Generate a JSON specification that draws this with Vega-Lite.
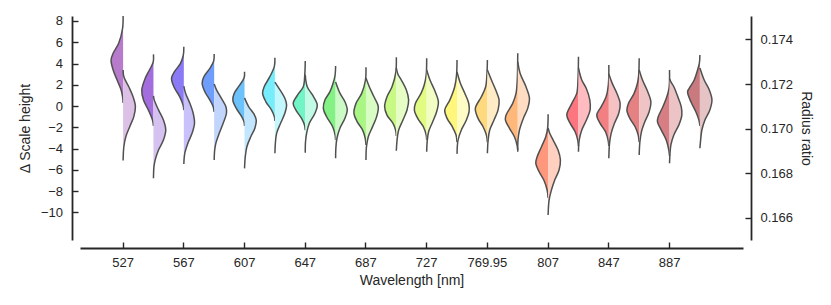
{
"$schema":"https://vega.github.io/schema/vega-lite/v6.json",
"width":663,"height":224,
"autosize":"none",
"padding":{"left":80,"top":16,"right":88,"bottom":65},
"config":{"view":{"stroke":null},"font":"Liberation Sans",
"axis":{"grid":false,"labelFont":"Liberation Sans","titleFont":"Liberation Sans","labelFontSize":13,"titleFontSize":14,"titleFontWeight":"normal","labelColor":"#262626","titleColor":"#262626","domainColor":"#262626","tickColor":"#262626","domainWidth":1.8,"tickWidth":1.4,"tickSize":-6,"offset":8}},
"datasets":{
"left":[
{"w":"527","v":8.47,"d":0},{"w":"527","v":7.34,"d":0.04},{"w":"527","v":5.93,"d":0.35},{"w":"527","v":4.96,"d":0.81},{"w":"527","v":4.33,"d":0.98},{"w":"527","v":3.39,"d":0.81},{"w":"527","v":2.45,"d":0.49},{"w":"527","v":1.51,"d":0.16},{"w":"527","v":0.87,"d":0.04},{"w":"527","v":0.28,"d":0},
{"w":"547","v":4.86,"d":0},{"w":"547","v":4.14,"d":0.02},{"w":"547","v":3.39,"d":0.33},{"w":"547","v":2.61,"d":0.67},{"w":"547","v":1.51,"d":0.95},{"w":"547","v":0.56,"d":0.81},{"w":"547","v":-0.38,"d":0.41},{"w":"547","v":-1.32,"d":0.08},{"w":"547","v":-1.88,"d":0},
{"w":"567","v":5.58,"d":0},{"w":"567","v":4.8,"d":0.04},{"w":"567","v":4.02,"d":0.27},{"w":"567","v":3.23,"d":0.76},{"w":"567","v":2.61,"d":1.0},{"w":"567","v":1.82,"d":0.81},{"w":"567","v":0.87,"d":0.33},{"w":"567","v":0.09,"d":0.06},{"w":"567","v":-0.38,"d":0},
{"w":"587","v":4.89,"d":0},{"w":"587","v":4.23,"d":0.04},{"w":"587","v":3.54,"d":0.35},{"w":"587","v":2.76,"d":0.84},{"w":"587","v":2.14,"d":0.98},{"w":"587","v":1.35,"d":0.76},{"w":"587","v":0.56,"d":0.35},{"w":"587","v":-0.07,"d":0.08},{"w":"587","v":-0.56,"d":0},
{"w":"607","v":3.23,"d":0},{"w":"607","v":2.63,"d":0.04},{"w":"607","v":1.82,"d":0.49},{"w":"607","v":1.19,"d":0.84},{"w":"607","v":0.56,"d":0.95},{"w":"607","v":-0.22,"d":0.67},{"w":"607","v":-1.01,"d":0.22},{"w":"607","v":-1.48,"d":0.04},{"w":"607","v":-1.88,"d":0},
{"w":"627","v":4.54,"d":0},{"w":"627","v":3.76,"d":0.04},{"w":"627","v":2.76,"d":0.41},{"w":"627","v":1.82,"d":0.87},{"w":"627","v":1.19,"d":1.0},{"w":"627","v":0.4,"d":0.73},{"w":"627","v":-0.38,"d":0.27},{"w":"627","v":-1.01,"d":0.04},{"w":"627","v":-1.41,"d":0},
{"w":"647","v":4.23,"d":0},{"w":"647","v":2.92,"d":0.04},{"w":"647","v":1.82,"d":0.16},{"w":"647","v":1.03,"d":0.63},{"w":"647","v":0.25,"d":0.98},{"w":"647","v":-0.38,"d":0.76},{"w":"647","v":-1.16,"d":0.3},{"w":"647","v":-1.79,"d":0.06},{"w":"647","v":-2.26,"d":0},
{"w":"667","v":3.76,"d":0},{"w":"667","v":2.92,"d":0.04},{"w":"667","v":2.16,"d":0.2},{"w":"667","v":1.35,"d":0.46},{"w":"667","v":0.56,"d":0.87},{"w":"667","v":-0.22,"d":1.0},{"w":"667","v":-1.01,"d":0.73},{"w":"667","v":-1.95,"d":0.24},{"w":"667","v":-2.73,"d":0.04},{"w":"667","v":-3.2,"d":0},
{"w":"687","v":3.64,"d":0},{"w":"687","v":2.45,"d":0.04},{"w":"687","v":1.19,"d":0.35},{"w":"687","v":0.25,"d":0.81},{"w":"687","v":-0.69,"d":0.98},{"w":"687","v":-1.48,"d":0.71},{"w":"687","v":-2.26,"d":0.27},{"w":"687","v":-3.04,"d":0.06},{"w":"687","v":-3.67,"d":0},
{"w":"707","v":4.58,"d":0},{"w":"707","v":3.2,"d":0.04},{"w":"707","v":1.82,"d":0.35},{"w":"707","v":0.87,"d":0.76},{"w":"707","v":-0.07,"d":0.95},{"w":"707","v":-0.85,"d":0.76},{"w":"707","v":-1.63,"d":0.27},{"w":"707","v":-2.26,"d":0.06},{"w":"707","v":-2.82,"d":0},
{"w":"727","v":4.49,"d":0},{"w":"727","v":2.92,"d":0.04},{"w":"727","v":1.98,"d":0.2},{"w":"727","v":1.19,"d":0.46},{"w":"727","v":0.25,"d":0.92},{"w":"727","v":-0.38,"d":1.0},{"w":"727","v":-1.16,"d":0.73},{"w":"727","v":-1.95,"d":0.27},{"w":"727","v":-2.73,"d":0.04},{"w":"727","v":-3.2,"d":0},
{"w":"747","v":4.33,"d":0},{"w":"747","v":2.92,"d":0.04},{"w":"747","v":1.82,"d":0.19},{"w":"747","v":0.56,"d":0.59},{"w":"747","v":-0.38,"d":1.0},{"w":"747","v":-1.16,"d":0.81},{"w":"747","v":-1.95,"d":0.38},{"w":"747","v":-2.73,"d":0.08},{"w":"747","v":-3.39,"d":0},
{"w":"769.95","v":4.33,"d":0},{"w":"769.95","v":2.92,"d":0.04},{"w":"769.95","v":1.82,"d":0.14},{"w":"769.95","v":0.87,"d":0.49},{"w":"769.95","v":-0.22,"d":0.98},{"w":"769.95","v":-1.16,"d":0.76},{"w":"769.95","v":-1.95,"d":0.35},{"w":"769.95","v":-2.73,"d":0.08},{"w":"769.95","v":-3.39,"d":0},
{"w":"787","v":4.96,"d":0},{"w":"787","v":2.45,"d":0.04},{"w":"787","v":1.19,"d":0.14},{"w":"787","v":0.25,"d":0.41},{"w":"787","v":-0.85,"d":0.95},{"w":"787","v":-1.32,"d":1.0},{"w":"787","v":-2.1,"d":0.67},{"w":"787","v":-2.89,"d":0.27},{"w":"787","v":-3.67,"d":0.06},{"w":"787","v":-4.14,"d":0},
{"w":"807","v":-0.78,"d":0},{"w":"807","v":-2.07,"d":0.04},{"w":"807","v":-2.89,"d":0.19},{"w":"807","v":-3.83,"d":0.54},{"w":"807","v":-4.77,"d":0.89},{"w":"807","v":-5.39,"d":1.0},{"w":"807","v":-6.18,"d":0.73},{"w":"807","v":-6.96,"d":0.35},{"w":"807","v":-7.9,"d":0.08},{"w":"807","v":-8.65,"d":0},
{"w":"827","v":4.64,"d":0},{"w":"827","v":2.45,"d":0.04},{"w":"827","v":1.19,"d":0.14},{"w":"827","v":0.25,"d":0.54},{"w":"827","v":-0.85,"d":0.95},{"w":"827","v":-1.63,"d":0.67},{"w":"827","v":-2.42,"d":0.27},{"w":"827","v":-3.2,"d":0.06},{"w":"827","v":-3.76,"d":0},
{"w":"847","v":3.86,"d":0},{"w":"847","v":1.98,"d":0.04},{"w":"847","v":0.87,"d":0.22},{"w":"847","v":-0.07,"d":0.63},{"w":"847","v":-0.85,"d":0.98},{"w":"847","v":-1.63,"d":0.71},{"w":"847","v":-2.42,"d":0.27},{"w":"847","v":-3.2,"d":0.06},{"w":"847","v":-3.76,"d":0},
{"w":"867","v":4.49,"d":0},{"w":"867","v":2.92,"d":0.04},{"w":"867","v":2.14,"d":0.14},{"w":"867","v":1.19,"d":0.41},{"w":"867","v":0.25,"d":0.87},{"w":"867","v":-0.38,"d":1.0},{"w":"867","v":-1.16,"d":0.76},{"w":"867","v":-1.95,"d":0.33},{"w":"867","v":-2.73,"d":0.08},{"w":"867","v":-3.39,"d":0},
{"w":"887","v":3.39,"d":0},{"w":"887","v":1.69,"d":0.04},{"w":"887","v":0.87,"d":0.22},{"w":"887","v":-0.07,"d":0.54},{"w":"887","v":-1.01,"d":0.92},{"w":"887","v":-1.48,"d":0.98},{"w":"887","v":-2.26,"d":0.67},{"w":"887","v":-3.2,"d":0.27},{"w":"887","v":-4.14,"d":0.06},{"w":"887","v":-4.7,"d":0},
{"w":"907","v":4.8,"d":0},{"w":"907","v":4.05,"d":0.04},{"w":"907","v":3.39,"d":0.19},{"w":"907","v":2.45,"d":0.46},{"w":"907","v":1.66,"d":0.87},{"w":"907","v":1.35,"d":1.0},{"w":"907","v":0.4,"d":0.73},{"w":"907","v":-0.54,"d":0.33},{"w":"907","v":-1.32,"d":0.08},{"w":"907","v":-1.88,"d":0}
],
"right":[
{"w":"527","v":0.17263,"d":0},{"w":"527","v":0.17233,"d":0.06},{"w":"527","v":0.17188,"d":0.46},{"w":"527","v":0.17143,"d":0.81},{"w":"527","v":0.17099,"d":1.0},{"w":"527","v":0.17054,"d":0.87},{"w":"527","v":0.17009,"d":0.54},{"w":"527","v":0.16964,"d":0.22},{"w":"527","v":0.16919,"d":0.06},{"w":"527","v":0.16857,"d":0},
{"w":"547","v":0.17147,"d":0},{"w":"547","v":0.17129,"d":0.06},{"w":"547","v":0.17084,"d":0.41},{"w":"547","v":0.17039,"d":0.81},{"w":"547","v":0.16994,"d":1.0},{"w":"547","v":0.16949,"d":0.81},{"w":"547","v":0.16904,"d":0.41},{"w":"547","v":0.1686,"d":0.14},{"w":"547","v":0.1683,"d":0.04},{"w":"547","v":0.16778,"d":0},
{"w":"567","v":0.17191,"d":0},{"w":"567","v":0.17159,"d":0.14},{"w":"567","v":0.17114,"d":0.49},{"w":"567","v":0.17069,"d":0.76},{"w":"567","v":0.17024,"d":0.87},{"w":"567","v":0.16979,"d":0.67},{"w":"567","v":0.16935,"d":0.33},{"w":"567","v":0.1689,"d":0.08},{"w":"567","v":0.16842,"d":0},
{"w":"587","v":0.172,"d":0},{"w":"587","v":0.17174,"d":0.19},{"w":"587","v":0.17136,"d":0.59},{"w":"587","v":0.17099,"d":0.95},{"w":"587","v":0.17069,"d":1.0},{"w":"587","v":0.17024,"d":0.73},{"w":"587","v":0.16979,"d":0.41},{"w":"587","v":0.16935,"d":0.14},{"w":"587","v":0.16904,"d":0.04},{"w":"587","v":0.1686,"d":0},
{"w":"607","v":0.17138,"d":0},{"w":"607","v":0.17099,"d":0.33},{"w":"607","v":0.17069,"d":0.73},{"w":"607","v":0.17039,"d":0.95},{"w":"607","v":0.17002,"d":0.84},{"w":"607","v":0.16964,"d":0.51},{"w":"607","v":0.16919,"d":0.19},{"w":"607","v":0.16874,"d":0.06},{"w":"607","v":0.16822,"d":0},
{"w":"627","v":0.17209,"d":0},{"w":"627","v":0.17174,"d":0.41},{"w":"627","v":0.17136,"d":0.81},{"w":"627","v":0.17106,"d":0.95},{"w":"627","v":0.17069,"d":0.81},{"w":"627","v":0.17024,"d":0.46},{"w":"627","v":0.16979,"d":0.14},{"w":"627","v":0.16935,"d":0.04},{"w":"627","v":0.1689,"d":0},
{"w":"647","v":0.17241,"d":0},{"w":"647","v":0.17188,"d":0.16},{"w":"647","v":0.17151,"d":0.59},{"w":"647","v":0.17106,"d":0.98},{"w":"647","v":0.17069,"d":0.79},{"w":"647","v":0.17024,"d":0.33},{"w":"647","v":0.16979,"d":0.11},{"w":"647","v":0.1694,"d":0.02},{"w":"647","v":0.16892,"d":0},
{"w":"667","v":0.17209,"d":0},{"w":"667","v":0.17159,"d":0.35},{"w":"667","v":0.17121,"d":0.76},{"w":"667","v":0.17084,"d":0.95},{"w":"667","v":0.17047,"d":0.76},{"w":"667","v":0.17002,"d":0.35},{"w":"667","v":0.16957,"d":0.11},{"w":"667","v":0.16913,"d":0.02},{"w":"667","v":0.16867,"d":0},
{"w":"687","v":0.17227,"d":0},{"w":"687","v":0.17188,"d":0.27},{"w":"687","v":0.17143,"d":0.65},{"w":"687","v":0.17099,"d":1.0},{"w":"687","v":0.17054,"d":0.87},{"w":"687","v":0.17009,"d":0.54},{"w":"687","v":0.16964,"d":0.19},{"w":"687","v":0.16919,"d":0.04},{"w":"687","v":0.1686,"d":0},
{"w":"707","v":0.17272,"d":0},{"w":"707","v":0.17245,"d":0.12},{"w":"707","v":0.17218,"d":0.41},{"w":"707","v":0.17174,"d":0.81},{"w":"707","v":0.17129,"d":1.0},{"w":"707","v":0.17084,"d":0.87},{"w":"707","v":0.17039,"d":0.54},{"w":"707","v":0.16994,"d":0.19},{"w":"707","v":0.16949,"d":0.06},{"w":"707","v":0.16901,"d":0},
{"w":"727","v":0.17263,"d":0},{"w":"727","v":0.17218,"d":0.27},{"w":"727","v":0.17174,"d":0.63},{"w":"727","v":0.17121,"d":0.95},{"w":"727","v":0.17076,"d":0.81},{"w":"727","v":0.17031,"d":0.49},{"w":"727","v":0.16987,"d":0.16},{"w":"727","v":0.16942,"d":0.04},{"w":"727","v":0.16897,"d":0},
{"w":"747","v":0.17254,"d":0},{"w":"747","v":0.17204,"d":0.27},{"w":"747","v":0.17159,"d":0.63},{"w":"747","v":0.17114,"d":0.95},{"w":"747","v":0.17076,"d":0.98},{"w":"747","v":0.17039,"d":0.76},{"w":"747","v":0.16994,"d":0.35},{"w":"747","v":0.16949,"d":0.08},{"w":"747","v":0.16887,"d":0},
{"w":"769.95","v":0.17263,"d":0},{"w":"769.95","v":0.17218,"d":0.33},{"w":"769.95","v":0.17174,"d":0.67},{"w":"769.95","v":0.17129,"d":0.95},{"w":"769.95","v":0.17084,"d":0.87},{"w":"769.95","v":0.17039,"d":0.54},{"w":"769.95","v":0.16994,"d":0.19},{"w":"769.95","v":0.16949,"d":0.06},{"w":"769.95","v":0.1689,"d":0},
{"w":"787","v":0.17299,"d":0},{"w":"787","v":0.17248,"d":0.19},{"w":"787","v":0.17188,"d":0.67},{"w":"787","v":0.17136,"d":0.95},{"w":"787","v":0.17091,"d":0.81},{"w":"787","v":0.17047,"d":0.46},{"w":"787","v":0.16994,"d":0.14},{"w":"787","v":0.16949,"d":0.02},{"w":"787","v":0.16897,"d":0},
{"w":"807","v":0.17003,"d":0},{"w":"807","v":0.16981,"d":0.12},{"w":"807","v":0.16949,"d":0.41},{"w":"807","v":0.16904,"d":0.81},{"w":"807","v":0.1686,"d":1.0},{"w":"807","v":0.16815,"d":0.89},{"w":"807","v":0.1677,"d":0.54},{"w":"807","v":0.16725,"d":0.27},{"w":"807","v":0.1668,"d":0.08},{"w":"807","v":0.16613,"d":0},
{"w":"827","v":0.17272,"d":0},{"w":"827","v":0.17218,"d":0.27},{"w":"827","v":0.17181,"d":0.63},{"w":"827","v":0.17129,"d":0.92},{"w":"827","v":0.17084,"d":0.95},{"w":"827","v":0.17039,"d":0.65},{"w":"827","v":0.16994,"d":0.27},{"w":"827","v":0.16949,"d":0.06},{"w":"827","v":0.16897,"d":0},
{"w":"847","v":0.17245,"d":0},{"w":"847","v":0.17204,"d":0.27},{"w":"847","v":0.17159,"d":0.65},{"w":"847","v":0.17114,"d":0.92},{"w":"847","v":0.17069,"d":0.81},{"w":"847","v":0.17024,"d":0.46},{"w":"847","v":0.16979,"d":0.19},{"w":"847","v":0.16935,"d":0.06},{"w":"847","v":0.16867,"d":0},
{"w":"867","v":0.17263,"d":0},{"w":"867","v":0.17218,"d":0.27},{"w":"867","v":0.17174,"d":0.63},{"w":"867","v":0.17121,"d":0.95},{"w":"867","v":0.17076,"d":0.81},{"w":"867","v":0.17031,"d":0.46},{"w":"867","v":0.16987,"d":0.19},{"w":"867","v":0.16942,"d":0.06},{"w":"867","v":0.16882,"d":0},
{"w":"887","v":0.17223,"d":0},{"w":"887","v":0.17209,"d":0.12},{"w":"887","v":0.17188,"d":0.35},{"w":"887","v":0.17143,"d":0.67},{"w":"887","v":0.17099,"d":0.95},{"w":"887","v":0.17061,"d":1.0},{"w":"887","v":0.17017,"d":0.76},{"w":"887","v":0.16972,"d":0.35},{"w":"887","v":0.16927,"d":0.11},{"w":"887","v":0.16845,"d":0},
{"w":"907","v":0.17272,"d":0},{"w":"907","v":0.17218,"d":0.35},{"w":"907","v":0.17174,"d":0.76},{"w":"907","v":0.17129,"d":0.98},{"w":"907","v":0.17084,"d":0.81},{"w":"907","v":0.17039,"d":0.41},{"w":"907","v":0.16994,"d":0.16},{"w":"907","v":0.16949,"d":0.06},{"w":"907","v":0.16912,"d":0}
]},
"layer":[
{"data":{"name":"left"},
"encoding":{
"x":{"field":"w","type":"nominal","scale":{"domain":["527","547","567","587","607","627","647","667","687","707","727","747","769.95","787","807","827","847","867","887","907"],"paddingInner":0,"paddingOuter":0.92},"axis":{"title":"Wavelength [nm]","values":["527","567","607","647","687","727","769.95","807","847","887"],"labelAngle":0,"labelPadding":14,"titlePadding":4}},
"xOffset":{"field":"d","type":"quantitative","scale":{"domain":[0,1],"range":[15.18,2.88]}},
"y":{"field":"v","type":"quantitative","stack":null,"scale":{"domain":[-12.6,8.47],"nice":false,"zero":false},"axis":{"title":"Δ Scale height","values":[-10,-8,-6,-4,-2,0,2,4,6,8],"labelPadding":15.5,"titlePadding":8}}},
"layer":[
{"mark":{"type":"area","orient":"horizontal","interpolate":"catmull-rom"},
"encoding":{"x2":{"field":"w"},"color":{"field":"w","type":"nominal","legend":null,"scale":{"domain":["527","547","567","587","607","627","647","667","687","707","727","747","769.95","787","807","827","847","867","887","907"],"range":["#b77bcc","#a46ddd","#8b7af5","#6e9dfb","#6cc3fb","#77ecfb","#72f5c6","#84f184","#a9f685","#c8f985","#e2fb82","#fff67c","#ffd97d","#ffb87a","#ff977c","#fd757e","#f27f82","#e58083","#d67e83","#c97a7e"]}}}},
{"mark":{"type":"line","interpolate":"catmull-rom","color":"#505050","strokeWidth":1.5},
"encoding":{"detail":{"field":"w"},"order":{"field":"v","type":"quantitative"}}}
]},
{"data":{"name":"right"},
"encoding":{
"x":{"field":"w","type":"nominal","scale":{"domain":["527","547","567","587","607","627","647","667","687","707","727","747","769.95","787","807","827","847","867","887","907"],"paddingInner":0,"paddingOuter":0.92},"axis":{"title":"Wavelength [nm]","values":["527","567","607","647","687","727","769.95","807","847","887"],"labelAngle":0,"labelPadding":14,"titlePadding":4}},
"xOffset":{"field":"d","type":"quantitative","scale":{"domain":[0,1],"range":[15.18,27.48]}},
"y":{"field":"v","type":"quantitative","stack":null,"scale":{"domain":[0.16501,0.17505],"nice":false,"zero":false},"axis":{"orient":"right","title":"Radius ratio","values":[0.166,0.168,0.17,0.172,0.174],"format":".3f","labelPadding":15,"titlePadding":6}}},
"layer":[
{"mark":{"type":"area","orient":"horizontal","interpolate":"catmull-rom"},
"encoding":{"x2":{"field":"w"},"color":{"field":"w","type":"nominal","legend":null,"scale":{"domain":["527","547","567","587","607","627","647","667","687","707","727","747","769.95","787","807","827","847","867","887","907"],"range":["#ddc0e5","#d6c2f0","#c9c1fa","#c1d5fd","#c1e6fe","#c3f7fe","#c1fae5","#cbfac6","#d9fcc5","#e7fdc6","#f2fdc4","#fffcc6","#ffecc6","#ffdcc2","#ffcfc0","#ffbcc0","#f6c1c2","#f0c4c5","#ecc4c5","#e6c3c4"]}}}},
{"mark":{"type":"line","interpolate":"catmull-rom","color":"#505050","strokeWidth":1.5},
"encoding":{"detail":{"field":"w"},"order":{"field":"v","type":"quantitative"}}}
]}
],
"resolve":{"scale":{"y":"independent","xOffset":"independent","color":"independent"}}
}
